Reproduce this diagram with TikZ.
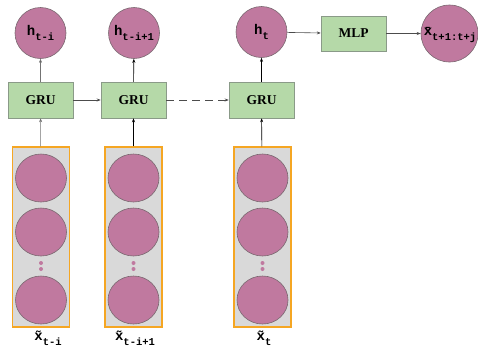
\documentclass[tikz,border=0pt]{standalone}
\usepackage{fontspec}
\setmainfont{Liberation Serif}
\setmonofont{Liberation Mono}
\usetikzlibrary{arrows.meta,shapes.geometric}
\definecolor{unitpink}{HTML}{C0799F}
\definecolor{unitedge}{HTML}{7A6870}
\definecolor{blockgreen}{HTML}{B5D9A8}
\definecolor{blockedge}{HTML}{8A9A88}
\definecolor{colgray}{HTML}{D9D9D9}
\definecolor{colorange}{HTML}{F5A623}
\newcommand{\hlab}[2]{{\fontsize{14}{14}\selectfont\ttfamily\bfseries #1}\raisebox{-5pt}{\fontsize{10.5}{10.5}\selectfont\ttfamily\bfseries #2}}
\begin{document}
\begin{tikzpicture}[x=1pt,y=-1pt,
  unit/.style={circle,draw=unitedge,line width=0.6pt,fill=unitpink,minimum size=51pt,inner sep=0pt},
  cell/.style={ellipse,draw=unitedge,line width=0.6pt,fill=unitpink,minimum width=51pt,minimum height=48pt,inner sep=0pt},
  block/.style={rectangle,draw=blockedge,line width=0.5pt,fill=blockgreen,minimum width=65pt,minimum height=36pt,inner sep=0pt,font=\fontsize{13.5}{13.5}\selectfont\bfseries},
  column/.style={rectangle,draw=colorange,line width=1.4pt,fill=colgray,minimum width=57pt,minimum height=180pt,inner sep=0pt},
  dotmark/.style={circle,fill=unitpink,minimum size=4pt,inner sep=0pt},
  arr/.style={-{Stealth[length=4pt,width=3pt]},line width=0.6pt},
  lbl/.style={inner sep=0pt,anchor=center}]
\useasboundingbox (0,0) rectangle (478,351);

% input vectors
\node[column] (col1) at (41,237) {};
\node[column] (col2) at (133.5,237) {};
\node[column] (col3) at (262.5,237) {};
\foreach \c/\x in {1/41,2/133.5,3/262.5}{
  \node[cell] (c\c a) at (\x,178) {};
  \node[cell] (c\c b) at (\x,232) {};
  \node[dotmark] (c\c d1) at (\x,263) {};
  \node[dotmark] (c\c d2) at (\x,269) {};
  \node[cell] (c\c c) at (\x,300) {};
}

% recurrent blocks
\node[block] (gru1) at (40.5,100) {GRU};
\node[block] (gru2) at (133.5,100) {GRU};
\node[block] (gru3) at (261.5,100) {GRU};
\node[block,minimum height=35pt] (mlp) at (353.5,33.5) {MLP};

% hidden states and prediction
\node[unit] (h1) at (40.5,33) {\hlab{h}{t-i}};
\node[unit] (h2) at (134,33) {\hlab{h}{t-i+1}};
\node[unit] (h3) at (261.5,32) {\hlab{h}{t}};
\node[unit,minimum size=57pt] (out) at (449.5,33.5) {};
\node[lbl] (outlab) at (450,35) {\hlab{\={x}}{t+1:t+j}};

% input labels
\node[lbl] (x1) at (48,338) {\hlab{\~{x}}{t-i}};
\node[lbl] (x2) at (135,338) {\hlab{\~{x}}{t-i+1}};
\node[lbl] (x3) at (264,338) {\hlab{\~{x}}{t}};

% connectors
\draw[arr,draw=black!55,-{Stealth[length=4pt,width=3pt,fill=black]}] (col1) -- (gru1);
\draw[arr,draw=black!55,-{Stealth[length=4pt,width=3pt,fill=black]}] (gru1) -- (h1);
\draw[arr] (col2) -- (gru2);
\draw[arr] (gru2) -- (h2);
\draw[arr] (col3) -- (gru3);
\draw[arr] (gru3) -- (h3);
\draw[arr,draw=black!70] (gru1) -- (gru2);
\draw[arr,draw=black!70,dash pattern=on 8pt off 5pt] (gru2) -- (gru3);
\draw[arr,draw=black!70] (h3) -- (mlp);
\draw[arr,draw=black!70] (mlp) -- (out);
\end{tikzpicture}
\end{document}
